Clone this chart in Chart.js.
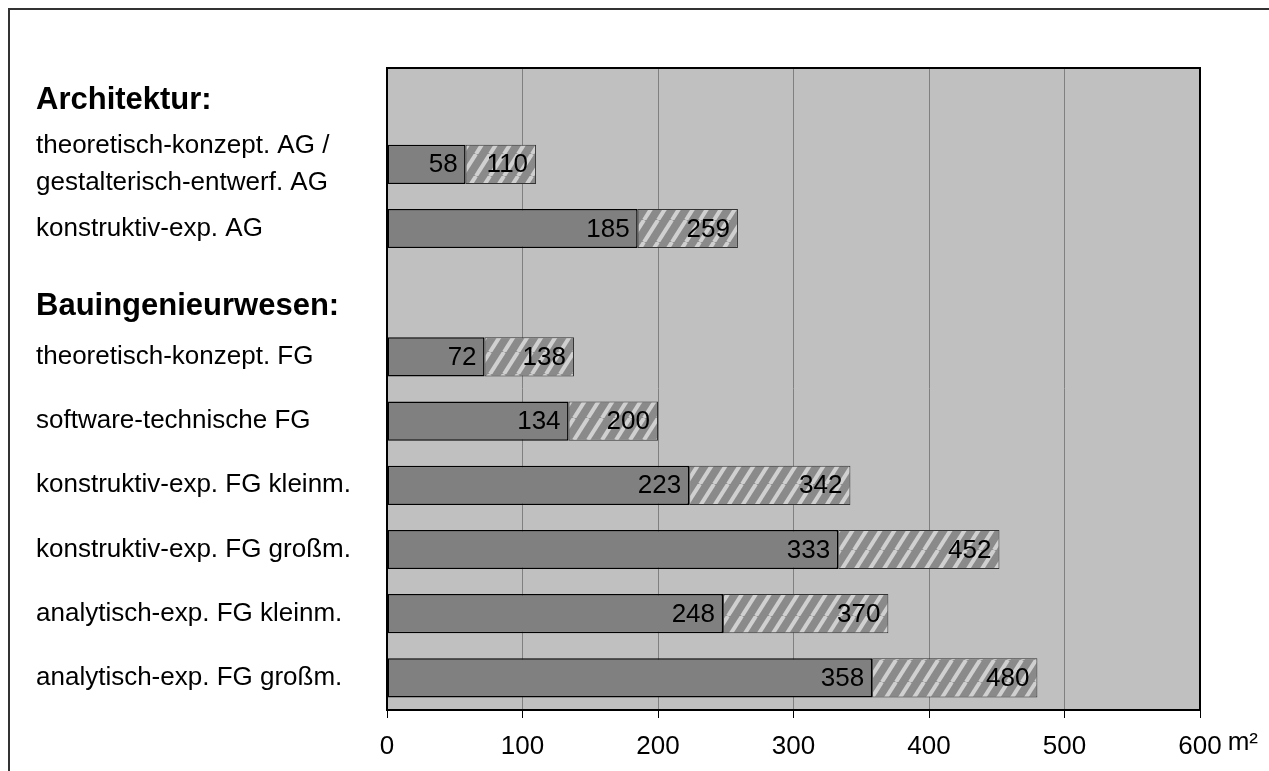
<!DOCTYPE html>
<html>
<head>
<meta charset="utf-8">
<script src="https://cdn.jsdelivr.net/npm/chart.js@4"></script>
<style>
    html, body { margin: 0; padding: 0; background: #fff; overflow: hidden; }
    #wrap { position: relative; width: 1269px; height: 771px; }
    #frame {
        position: absolute; left: 8px; top: 8px; width: 1300px; height: 800px;
        border-left: 2px solid #333; border-top: 2px solid #333;
    }
    canvas { position: absolute; left: 0; top: 0; }
</style>
</head>
<body>
<div id="wrap">
    <div id="frame"></div>
    <canvas id="areaChart" width="1269" height="771"></canvas>
</div>
<script>
const categories = [
    'Architektur:',
    ['theoretisch-konzept. AG /', 'gestalterisch-entwerf. AG'],
    'konstruktiv-exp. AG',
    ['', 'Bauingenieurwesen:'],
    'theoretisch-konzept. FG',
    'software-technische FG',
    'konstruktiv-exp. FG kleinm.',
    'konstruktiv-exp. FG großm.',
    'analytisch-exp. FG kleinm.',
    'analytisch-exp. FG großm.'
];
// first value (solid part) and total (end of hatched part), m²
const baseArea = [null, 58, 185, null, 72, 134, 223, 333, 248, 358];
const totalArea = [null, 110, 259, null, 138, 200, 342, 452, 370, 480];
const xTicks = [0, 100, 200, 300, 400, 500, 600];
const unitLabel = 'm²';
const headerRows = [0, 3];

const FONT = "'Liberation Sans', Arial, sans-serif";

function makeHatch() {
    const w = 14, h = 22;
    const c = document.createElement('canvas');
    c.width = w; c.height = h;
    const g = c.getContext('2d');
    g.fillStyle = '#8a8a8a';
    g.fillRect(0, 0, w, h);
    g.strokeStyle = '#d0d0d0';
    g.lineWidth = 4;
    [-w, 0, w].forEach(off => {
        g.beginPath();
        g.moveTo(off, h);
        g.lineTo(off + w, 0);
        g.stroke();
    });
    return g.createPattern(c, 'repeat');
}

const plotFrame = {
    id: 'plotFrame',
    beforeDraw(chart) {
        const { ctx, chartArea: a } = chart;
        ctx.save();
        ctx.fillStyle = '#c0c0c0';
        ctx.fillRect(a.left, a.top, a.right - a.left, a.bottom - a.top);
        ctx.restore();
    },
    afterDatasetsDraw(chart) {
        const { ctx } = chart;
        ctx.save();
        ctx.font = '26px ' + FONT;
        ctx.fillStyle = '#000';
        ctx.textAlign = 'right';
        ctx.textBaseline = 'middle';
        chart.data.datasets.forEach((ds, di) => {
            const meta = chart.getDatasetMeta(di);
            meta.data.forEach((bar, i) => {
                const v = di === 0 ? baseArea[i] : totalArea[i];
                if (v == null) return;
                ctx.fillText(String(v), bar.x - 8, bar.y + 1);
            });
        });
        ctx.restore();
    },
    afterDraw(chart) {
        const { ctx, chartArea: a, scales } = chart;
        ctx.save();
        ctx.strokeStyle = '#000';
        ctx.lineWidth = 2;
        ctx.strokeRect(a.left, a.top, a.right - a.left, a.bottom - a.top);
        // unit after the last tick label
        ctx.font = '26px ' + FONT;
        ctx.fillStyle = '#000';
        ctx.textAlign = 'left';
        ctx.textBaseline = 'middle';
        const lastX = scales.x.getPixelForValue(xTicks[xTicks.length - 1]);
        const half = ctx.measureText(String(xTicks[xTicks.length - 1])).width / 2;
        ctx.fillText(unitLabel, lastX + half + 6, 743);
        ctx.restore();
    }
};

document.addEventListener('DOMContentLoaded', () => {
    const ctx = document.getElementById('areaChart').getContext('2d');
    new Chart(ctx, {
        type: 'bar',
        data: {
            labels: categories,
            datasets: [{
                data: baseArea,
                backgroundColor: '#808080',
                borderColor: '#000',
                borderWidth: 1.5,
                borderSkipped: false
            }, {
                data: totalArea.map((t, i) => t == null ? null : t - baseArea[i]),
                backgroundColor: makeHatch(),
                borderColor: '#333',
                borderWidth: 1,
                borderSkipped: false
            }]
        },
        options: {
            indexAxis: 'y',
            responsive: false,
            animation: false,
            events: [],
            datasets: { bar: { categoryPercentage: 1, barPercentage: 0.61 } },
            layout: { padding: { left: 36, right: 69, top: 68, bottom: 0 } },
            plugins: { legend: { display: false }, tooltip: { enabled: false } },
            scales: {
                x: {
                    stacked: true,
                    min: 0,
                    max: 600,
                    afterBuildTicks: (s) => { s.ticks = xTicks.map(v => ({ value: v })); },
                    afterFit: (s) => { s.height = 61; },
                    grid: { color: '#808080', lineWidth: 1, tickColor: '#000', tickLength: 8 },
                    border: { color: '#000', width: 2 },
                    ticks: { color: '#000', padding: 13, maxRotation: 0, font: { family: FONT, size: 26 } }
                },
                y: {
                    stacked: true,
                    afterFit: (s) => { s.width = 351; },
                    grid: { display: false },
                    border: { color: '#000', width: 2 },
                    ticks: {
                        color: '#000',
                        crossAlign: 'far',
                        autoSkip: false,
                        font: (c) => headerRows.includes(c.index)
                            ? { family: FONT, size: 31, weight: 'bold', lineHeight: 0.9 }
                            : { family: FONT, size: 26, lineHeight: 1.42 }
                    }
                }
            }
        },
        plugins: [plotFrame]
    });
});
</script>
</body>
</html>
